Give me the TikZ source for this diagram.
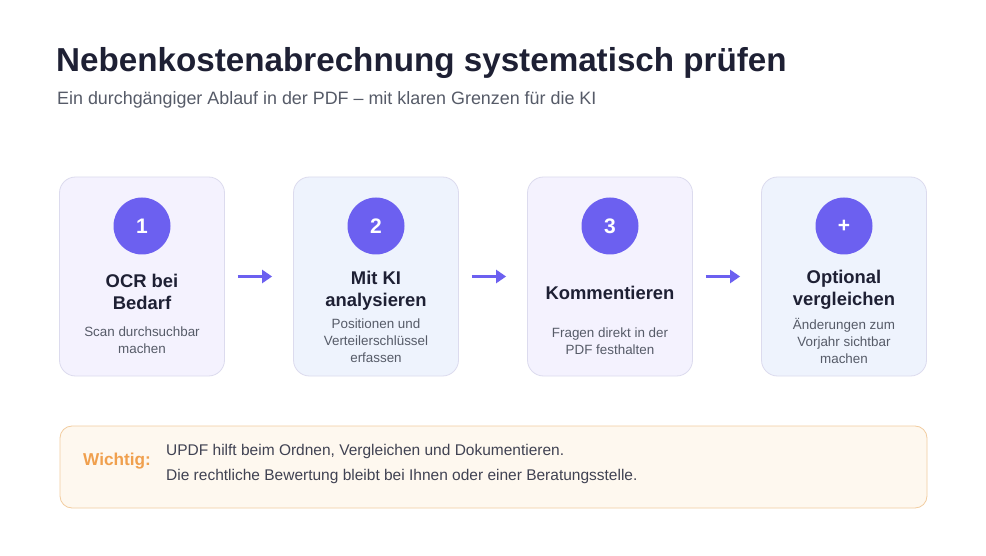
\documentclass[tikz,border=0pt]{standalone}
\usepackage{fontspec}
\setmainfont{Liberation Sans}
\usetikzlibrary{positioning,arrows.meta}

\definecolor{ink}{HTML}{1E2034}
\definecolor{greytxt}{HTML}{565B68}
\definecolor{violet}{HTML}{6C60F0}
\definecolor{lavender}{HTML}{F4F2FE}
\definecolor{paleblue}{HTML}{EEF3FD}
\definecolor{cardline}{HTML}{DCDBEE}
\definecolor{notefill}{HTML}{FEF8EF}
\definecolor{noteline}{HTML}{F2CDA0}
\definecolor{noteorange}{HTML}{F0A04E}

\tikzset{
  card/.style={draw=cardline, line width=0.8pt, rounded corners=16pt,
    minimum width=165pt, minimum height=199pt, inner sep=0pt},
  badge/.style={circle, fill=violet, minimum size=57pt, inner sep=0pt,
    text=white, font=\fontsize{21}{24}\selectfont\bfseries},
  cardtitle/.style={align=center, text=ink, inner sep=0pt,
    font=\fontsize{18.4}{22}\selectfont\bfseries},
  carddesc/.style={align=center, text=greytxt, inner sep=0pt,
    font=\fontsize{13.4}{16.8}\selectfont},
  flow/.style={-{Triangle[length=10pt,width=13pt]}, violet, line width=3pt},
}

\begin{document}
\begin{tikzpicture}[x=1pt,y=-1pt]
    \useasboundingbox[fill=white] (0,0) rectangle (986,556);
    % Kopf
    \node[anchor=west, text=ink, inner sep=0pt, font=\fontsize{33.2}{38}\selectfont\bfseries] (head) at (56,63) {Nebenkostenabrechnung systematisch prüfen};
    \node[anchor=west, text=greytxt, inner sep=0pt, font=\fontsize{17.9}{21}\selectfont] (sub) at (57,100) {Ein durchgängiger Ablauf in der PDF – mit klaren Grenzen für die KI};
    % Karten
    \node[card, fill=lavender] (c1) at (142,276.5) {};
    \node[card, fill=paleblue] (c2) at (376,276.5) {};
    \node[card, fill=lavender] (c3) at (610,276.5) {};
    \node[card, fill=paleblue] (c4) at (844,276.5) {};
    % Nummern
    \node[badge] (n1) at (142,226) {1};
    \node[badge] (n2) at (376,226) {2};
    \node[badge] (n3) at (610,226) {3};
    \node[badge] (n4) at (844,226) {+};
    % Titel
    \node[cardtitle] (t1) at (142,292) {OCR bei\\Bedarf};
    \node[cardtitle] (t2) at (376,290.5) {Mit KI\\analysieren};
    \node[cardtitle] (t3) at (610,293) {Kommentieren};
    \node[cardtitle] (t4) at (844,290) {Optional\\vergleichen};
    % Beschreibung
    \node[carddesc] (d1) at (142,340.5) {Scan durchsuchbar\\machen};
    \node[carddesc] (d2) at (376,341) {Positionen und\\Verteilerschlüssel\\erfassen};
    \node[carddesc] (d3) at (610,341) {Fragen direkt in der\\PDF festhalten};
    \node[carddesc] (d4) at (844,341) {Änderungen zum\\Vorjahr sichtbar\\machen};
    % Pfeile
    \draw[flow] ([xshift=13pt]c1.east) -- ([xshift=-21pt]c2.west);
    \draw[flow] ([xshift=13pt]c2.east) -- ([xshift=-21pt]c3.west);
    \draw[flow] ([xshift=13pt]c3.east) -- ([xshift=-21pt]c4.west);
    % Hinweis
    \node[draw=noteline, fill=notefill, line width=0.8pt, rounded corners=12pt,
      minimum width=867pt, minimum height=82pt, inner sep=0pt] (note) at (493.5,467) {};
    \node[anchor=west, text=noteorange, inner sep=0pt, font=\fontsize{17.2}{20}\selectfont\bfseries] (warn) at (83,461) {Wichtig:};
    \node[anchor=west, text=ink!85, inner sep=0pt, font=\fontsize{15.5}{18}\selectfont] (l1) at (166,451) {UPDF hilft beim Ordnen, Vergleichen und Dokumentieren.};
    \node[anchor=west, text=ink!85, inner sep=0pt, font=\fontsize{15.5}{18}\selectfont] (l2) at (166,476) {Die rechtliche Bewertung bleibt bei Ihnen oder einer Beratungsstelle.};
\end{tikzpicture}
\end{document}
